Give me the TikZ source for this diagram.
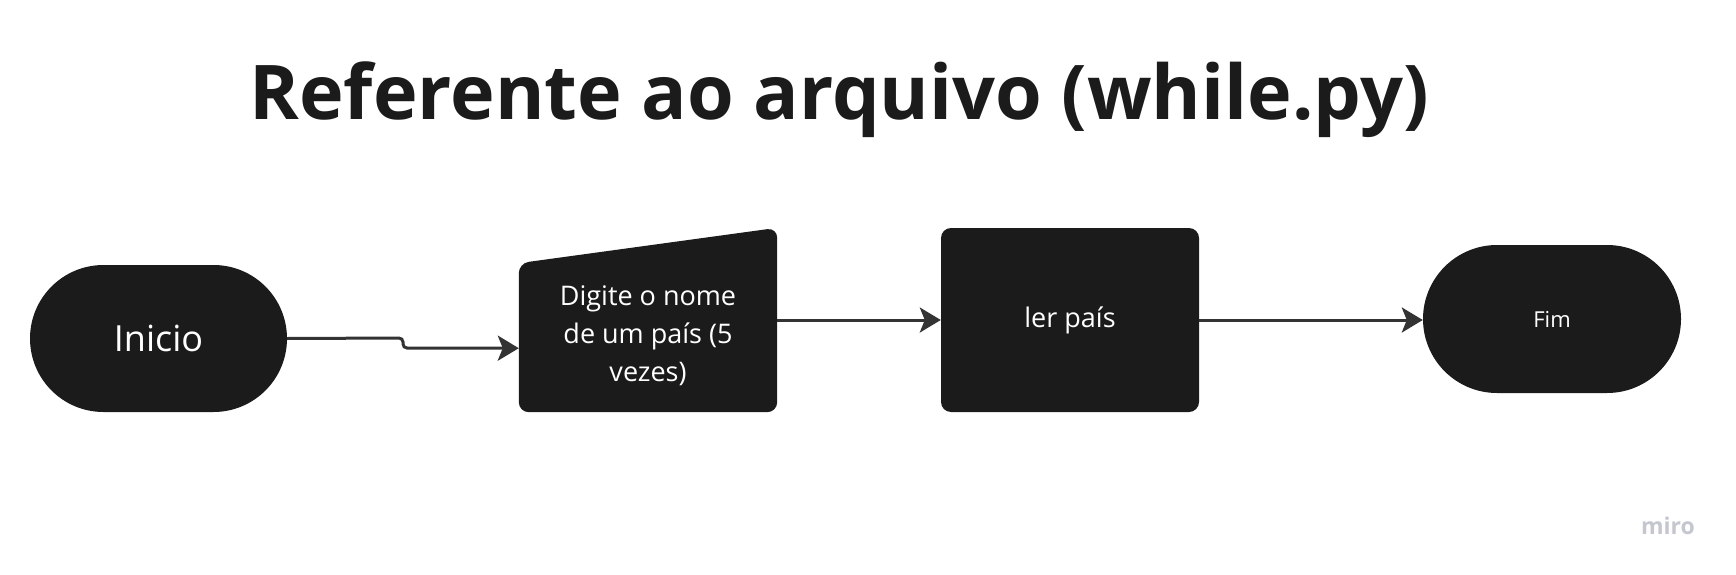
\documentclass[tikz,border=0pt]{standalone}
\usepackage{fontspec}
\setmainfont{Open Sans}
\usetikzlibrary{arrows.meta,calc,shapes.misc}
\definecolor{boxfill}{HTML}{1B1B1B}
\definecolor{linec}{HTML}{333333}
\definecolor{miroc}{HTML}{C5C7D0}
\tikzset{
  term/.style={fill=boxfill, rounded rectangle, rounded rectangle arc length=180, inner sep=0pt, text=white},
  procbox/.style={fill=boxfill, rounded corners=10pt, rectangle, inner sep=0pt, text=white},
  conn/.style={draw=linec, line width=3pt, arrows={-Stealth[length=21pt,width=25pt,inset=5pt]}}}
\begin{document}
\begin{tikzpicture}[x=1pt,y=-1pt]
\useasboundingbox[fill=white] (0,0) rectangle (1736,575);
\node[anchor=base, font=\fontsize{75.5}{90}\selectfont\bfseries, text=boxfill] (title) at (839,120) {Referente ao arquivo (while.py)};
\node[term, minimum width=257pt, minimum height=147pt, font=\fontsize{36}{43}\selectfont] (ini) at (158.5,338.5) {Inicio};
\node[rectangle, inner sep=0pt, minimum width=258pt, minimum height=184pt] (dig) at (648,320) {};
\fill[boxfill, rounded corners=10pt] (dig.south west) -- ($(dig.south west)+(0,-149)$) -- (dig.north east) -- (dig.south east) -- cycle;
\node[text=white, align=center, font=\fontsize{27}{38}\selectfont] (digtxt) at ($(dig.center)+(0,16)$) {Digite o nome\\de um país (5\\vezes)};
\coordinate (din) at ($(dig.south west)+(0,-64)$);
\node[procbox, minimum width=258pt, minimum height=184pt, font=\fontsize{27}{34}\selectfont] (ler) at (1070,320) {ler país};
\node[term, minimum width=258pt, minimum height=148pt, font=\fontsize{22}{28}\selectfont] (fim) at (1552,319) {Fim};
\node[font=\fontsize{23}{26}\selectfont\bfseries, text=miroc] (miro) at (1668,526) {miro};
\draw[conn, rounded corners=4pt] (ini.east) -- (403,338) -- (403,348) -- (din);
\draw[conn] (dig.east) -- (ler.west);
\draw[conn] (ler.east) -- (ler.east -| fim.west);
\end{tikzpicture}
\end{document}
